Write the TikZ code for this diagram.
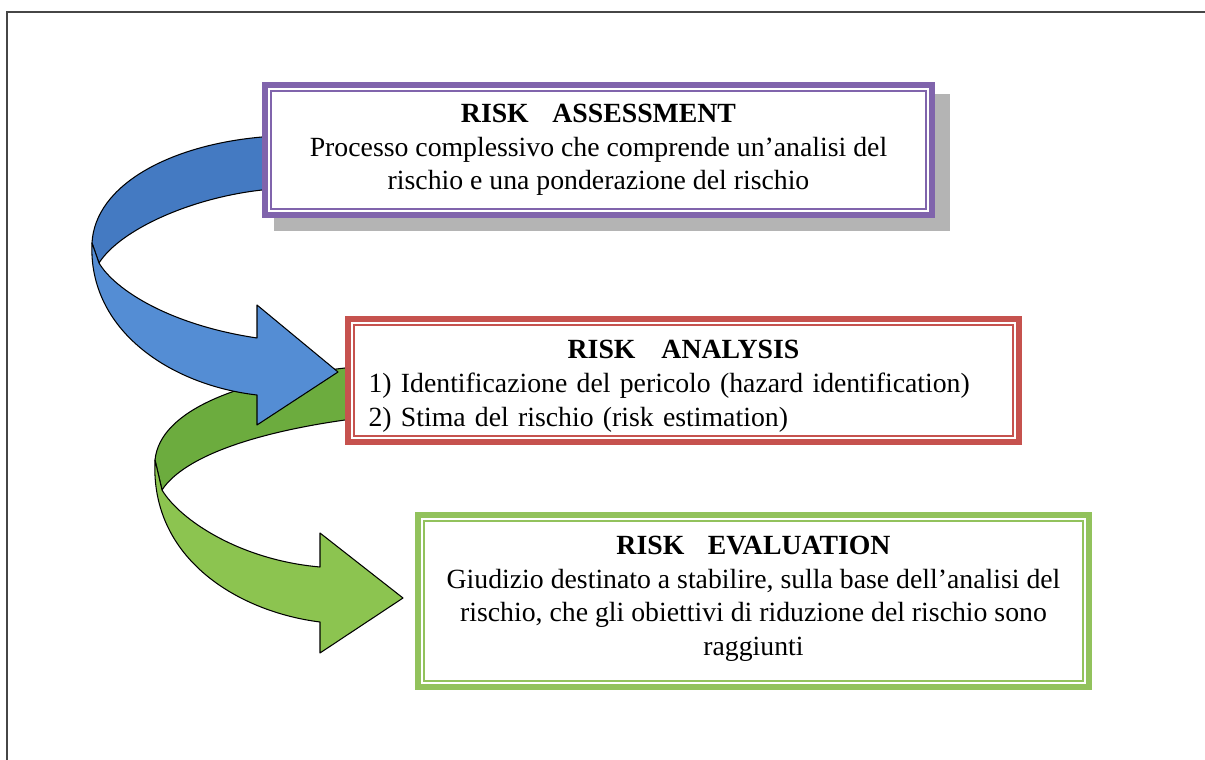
\documentclass[tikz,border=0pt]{standalone}
\usepackage{fontspec}
\setmainfont{Liberation Serif}
\usepackage{tikz}
\usetikzlibrary{positioning}
\definecolor{BoxPurple}{RGB}{128,100,172}
\definecolor{BoxRed}{RGB}{198,82,78}
\definecolor{BoxGreen}{RGB}{146,194,92}
\definecolor{RibbonBlue}{RGB}{84,141,212}
\definecolor{RibbonBlueDark}{RGB}{68,122,194}
\definecolor{RibbonGreen}{RGB}{140,196,80}
\definecolor{RibbonGreenDark}{RGB}{108,172,62}
\definecolor{ShadowGray}{RGB}{180,180,180}
\definecolor{FrameGray}{RGB}{70,70,70}

\begin{document}
\begin{tikzpicture}[
 x=0.02cm, y=-0.02cm,
 riskbox/.style={draw=#1, line width=3.4pt, fill=white, outer sep=0pt, inner sep=0pt, align=center},
 ribbon/.style={draw=black, line width=0.6pt, line join=round},
 font=\fontsize{15.8}{19.2}\selectfont
]
\useasboundingbox (0,0) rectangle (1205,760);
\draw[FrameGray, line width=1.1pt] (7,760) -- (7,12) -- (1205,12);

% shadow of the top box
\fill[ShadowGray] (274,94) rectangle (950,231);

% green ribbon
\draw[ribbon, fill=RibbonGreenDark] (360,368) -- (345,368) .. controls (240,380) and (160,410) .. (155,460) -- (162,490) .. controls (185,455) and (260,432) .. (345,420) -- (360,420) -- cycle;
\draw[ribbon, fill=RibbonGreen] (155,460) .. controls (150,560) and (240,612) .. (320,622) -- (320,653) -- (403,598) -- (320,533) -- (320,567) .. controls (240,560) and (180,520) .. (162,490) -- cycle;

% blue ribbon
\draw[ribbon, fill=RibbonBlueDark] (280,137) -- (262,137) .. controls (170,145) and (95,185) .. (92,243) -- (99,263) .. controls (120,230) and (190,198) .. (262,190) -- (280,190) -- cycle;
\draw[ribbon, fill=RibbonBlue] (92,243) .. controls (88,330) and (170,385) .. (257,395) -- (257,425) -- (338,372) -- (257,305) -- (257,338) .. controls (170,325) and (115,290) .. (99,263) -- cycle;

\node[riskbox=BoxPurple, minimum width=13.34cm, minimum height=2.6cm] (assess) at (598.5,150)
 {\textbf{RISK\hspace{0.6em} ASSESSMENT}\\Processo complessivo che comprende un'analisi del\\rischio e una ponderazione del rischio};
\node[riskbox=BoxRed, minimum width=13.42cm, minimum height=2.46cm, text width=12.6cm, align=left] (analysis) at (683.5,380.5)
 {\centering\rule{0pt}{17pt}\textbf{RISK\hspace{0.6em} ANALYSIS}\par\raggedright
  1) Identificazione del pericolo (hazard identification)\\2) Stima del rischio (risk estimation)};
\node[riskbox=BoxGreen, minimum width=13.42cm, minimum height=3.44cm] (evaluation) at (753.5,601)
 {\textbf{RISK\hspace{0.6em} EVALUATION}\\Giudizio destinato a stabilire, sulla base dell'analisi del\\rischio, che gli obiettivi di riduzione del rischio sono\\raggiunti\rule[-6pt]{0pt}{6pt}};

\foreach \n/\c in {assess/BoxPurple, analysis/BoxRed, evaluation/BoxGreen}
  \draw[\c, line width=1pt] ([shift={(6,6)}]\n.north west) rectangle ([shift={(-6,-6)}]\n.south east);
\end{tikzpicture}
\end{document}
